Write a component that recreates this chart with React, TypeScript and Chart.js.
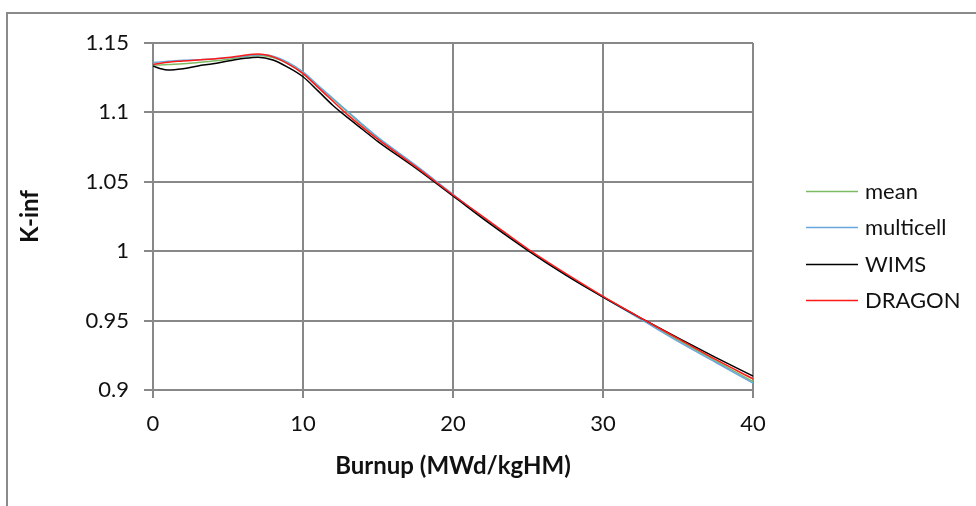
import React, { useEffect, useRef } from 'react';
import { Chart, registerables } from 'chart.js';

Chart.register(...registerables);

const burnup = [0, 0.5, 1, 2, 3, 4, 5, 6, 7, 8, 9, 10, 11, 12, 13, 14, 15, 17.5, 20, 22.5, 25, 27.5, 30, 32.5, 35, 37.5, 40];

const meanValues = [1.134, 1.1342, 1.1345, 1.135, 1.136, 1.137, 1.1383, 1.14, 1.141, 1.1395, 1.135, 1.1285, 1.119, 1.1095, 1.1, 1.0905, 1.0815, 1.0615, 1.0405, 1.0205, 1.001, 0.9835, 0.9672, 0.9515, 0.936, 0.921, 0.906];
const multicellValues = [1.136, 1.1364, 1.1368, 1.1375, 1.138, 1.1385, 1.1393, 1.1405, 1.1415, 1.1405, 1.136, 1.1293, 1.1195, 1.11, 1.1005, 1.091, 1.082, 1.062, 1.041, 1.0205, 1.001, 0.983, 0.967, 0.951, 0.935, 0.92, 0.905];
const wimsValues = [1.1334, 1.1315, 1.1305, 1.1315, 1.1335, 1.135, 1.137, 1.1388, 1.1398, 1.1378, 1.1325, 1.1257, 1.1155, 1.105, 1.096, 1.0875, 1.079, 1.06, 1.0398, 1.0195, 1.0005, 0.983, 0.967, 0.952, 0.9375, 0.9235, 0.91];
const dragonValues = [1.1345, 1.1354, 1.1362, 1.137, 1.1378, 1.1385, 1.1395, 1.141, 1.142, 1.14, 1.135, 1.128, 1.118, 1.108, 1.098, 1.089, 1.0805, 1.061, 1.0405, 1.021, 1.0015, 0.984, 0.9675, 0.952, 0.937, 0.922, 0.908];

const seriesNames = ['mean', 'multicell', 'WIMS', 'DRAGON'];
const xTicks = [0, 10, 20, 30, 40];
const yTicks = [0.9, 0.95, 1, 1.05, 1.1, 1.15];
const yTickLabels = ['0.9', '0.95', '1', '1.05', '1.1', '1.15'];

const FONT = 'Lato';
const TEXT = '#111111';
const GRID = '#888888';

const sideLegend = {
  id: 'sideLegend',
  afterDraw(chart: any) {
    const { ctx, chartArea } = chart;
    const x0 = chartArea.right + 53;
    const x1 = chartArea.right + 105;
    const tx = chartArea.right + 112;
    const y0 = 191;
    const dy = 36.3;
    ctx.save();
    ctx.font = `22px ${FONT}`;
    ctx.textBaseline = 'middle';
    ctx.textAlign = 'left';
    chart.data.datasets.forEach((ds: any, i: number) => {
      const y = Math.round(y0 + i * dy) + 0.5;
      ctx.strokeStyle = ds.borderColor;
      ctx.lineWidth = 1.5;
      ctx.beginPath();
      ctx.moveTo(x0, y);
      ctx.lineTo(x1, y);
      ctx.stroke();
      ctx.fillStyle = TEXT;
      ctx.fillText(ds.label, tx, y);
    });
    ctx.restore();
  },
};

export default function App() {
  const canvasRef = useRef<HTMLCanvasElement | null>(null);

  useEffect(() => {
    document.body.style.margin = '0';
    const canvas = canvasRef.current;
    if (!canvas) return;
    const mk = (vals: number[]) => burnup.map((x, i) => ({ x, y: vals[i] }));
    const colors = ['#7dbb63', '#69a6dc', '#000000', '#ff1a1a'];
    const all = [meanValues, multicellValues, wimsValues, dragonValues];
    const chart = new Chart(canvas, {
      type: 'line',
      data: {
        datasets: all.map((vals, i) => ({
          label: seriesNames[i],
          data: mk(vals),
          borderColor: colors[i],
          backgroundColor: colors[i],
          borderWidth: 1.5,
          pointRadius: 0,
          fill: false,
          cubicInterpolationMode: 'monotone' as const,
          order: 3 - i,
        })),
      },
      plugins: [sideLegend],
      options: {
        animation: false,
        responsive: false,
        devicePixelRatio: 1,
        layout: { padding: { left: 0, top: 43, right: 223, bottom: 0 } },
        plugins: {
          legend: { display: false },
          tooltip: { enabled: false },
        },
        scales: {
          x: {
            type: 'linear',
            min: 0,
            max: 40,
            afterBuildTicks: (s: any) => {
              s.ticks = xTicks.map((v) => ({ value: v }));
            },
            afterFit: (s: any) => {
              s.height = 116;
            },
            ticks: {
              font: { family: FONT, size: 22 },
              color: TEXT,
              padding: 13,
              maxRotation: 0,
            },
            grid: { color: GRID, lineWidth: 2, tickLength: 8 },
            border: { color: GRID, width: 2 },
            title: {
              display: true,
              text: 'Burnup (MWd/kgHM)',
              font: { family: FONT, size: 24, weight: 'bold' },
              color: TEXT,
              padding: { top: 0, bottom: 25 },
            },
          },
          y: {
            type: 'linear',
            min: 0.9,
            max: 1.15,
            afterBuildTicks: (s: any) => {
              s.ticks = yTicks.map((v) => ({ value: v }));
            },
            afterFit: (s: any) => {
              s.width = 153;
            },
            ticks: {
              font: { family: FONT, size: 22 },
              color: TEXT,
              padding: 15,
              callback: (v: any) => {
                const idx = yTicks.findIndex((t) => Math.abs(t - Number(v)) < 1e-6);
                return idx >= 0 ? yTickLabels[idx] : '';
              },
            },
            grid: { color: GRID, lineWidth: 2, tickLength: 9 },
            border: { color: GRID, width: 2 },
            title: {
              display: true,
              text: 'K-inf',
              font: { family: FONT, size: 24, weight: 'bold' },
              color: TEXT,
              padding: { top: 16, bottom: 0 },
            },
          },
        },
      },
    });
    return () => chart.destroy();
  }, []);

  return (
    <div style={{ position: 'relative', width: 976, height: 506, overflow: 'hidden', background: '#fff' }}>
      <div
        style={{
          position: 'absolute',
          left: 6,
          top: 12,
          width: 2000,
          height: 2000,
          borderTop: '2px solid #8a8a8a',
          borderLeft: '2px solid #8a8a8a',
        }}
      />
      <canvas ref={canvasRef} width={976} height={506} style={{ position: 'absolute', left: 0, top: 0 }} />
    </div>
  );
}
